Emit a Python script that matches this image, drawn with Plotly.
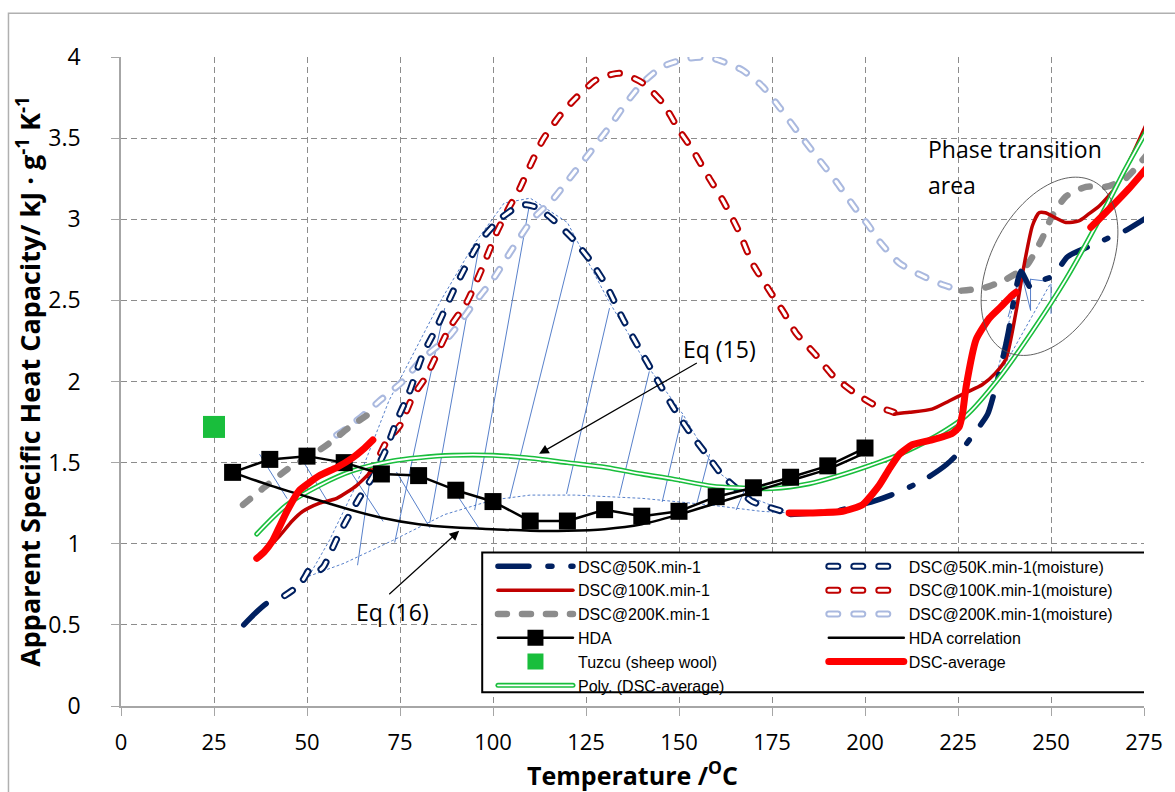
import numpy as np
import plotly.graph_objects as go

# ---------------------------------------------------------------------------
# Apparent specific heat capacity of wool (kJ g-1 K-1) versus temperature (°C)
# ---------------------------------------------------------------------------

# DSC at 50 K/min (dry sample)
dsc50_t = [33, 36, 39, 42, None, 180, 186, 192, 197, 202, 207, 212, 217, 222, 226,
           230, 233, 236.9, 238.5, 240, 241.9, 244.5, 247.2, 250.5, 254.5, 260, 265, 270, 275]
dsc50_cp = [0.50, 0.57, 0.63, 0.67, None, 1.18, 1.19, 1.20, 1.23, 1.26, 1.30, 1.35, 1.41, 1.49, 1.58,
            1.70, 1.80, 2.13, 2.30, 2.50, 2.68, 2.58, 2.62, 2.65, 2.77, 2.83, 2.88, 2.93, 3.00]

# DSC at 50 K/min (moist sample)
dsc50m_t = [44, 46.5, 49, 51, 53, 54.5, 56, 58, 60.5, 64, 67.8, 71.4, 74, 77.6, 81, 84.8, 90,
            96.4, 101.8, 106, 109, 112, 116, 121.4, 126, 130.5, 134.8, 139.4, 143.9, 148.2,
            152.8, 157.4, 161.7, 166, 169.7, 173.5, 177.8, 179.5]
dsc50m_cp = [0.68, 0.72, 0.78, 0.85, 0.83, 0.86, 0.93, 1.03, 1.14, 1.28, 1.42, 1.59, 1.75, 1.94,
             2.16, 2.33, 2.59, 2.86, 3.00, 3.07, 3.09, 3.07, 3.00, 2.88, 2.75, 2.59, 2.39, 2.20,
             2.02, 1.85, 1.69, 1.55, 1.42, 1.33, 1.26, 1.23, 1.20, 1.19]

# DSC at 100 K/min (dry sample)
dsc100_t = [39, 42.7, 46, 48.9, 53.4, 58, 63.4, 68.7, None, 208, 212, 218, 222.6, 227, 231.5,
            235, 237.9, 240.6, 242.7, 245, 246.8, 248.5, 250.3, 254, 257.5, 260, 262.9, 267.5,
            271.5, 275.5]
dsc100_cp = [0.96, 1.05, 1.14, 1.20, 1.25, 1.28, 1.36, 1.48, None, 1.80, 1.81, 1.83, 1.88, 1.93,
             1.98, 2.05, 2.14, 2.43, 2.71, 2.96, 3.04, 3.04, 3.02, 2.98, 2.99, 3.03, 3.08, 3.20,
             3.38, 3.58]

# DSC at 100 K/min (moist sample)
dsc100m_t = [66.9, 69, 71.4, 75, 78.5, 82, 88.3, 93, 97.3, 101, 104.5, 107, 110, 113.4, 118,
             122.4, 127.8, 134, 140.2, 145.5, 150, 153.6, 158.2, 161.7, 166.2, 169.7, 174.3,
             178.3, 181.4, 186.9, 191.2, 196.6, 203, 207.8]
dsc100m_cp = [1.42, 1.52, 1.63, 1.73, 1.91, 2.03, 2.33, 2.49, 2.71, 2.92, 3.08, 3.18, 3.33, 3.49,
              3.64, 3.75, 3.86, 3.90, 3.84, 3.72, 3.55, 3.43, 3.25, 3.12, 2.92, 2.73, 2.56, 2.42,
              2.30, 2.16, 2.04, 1.94, 1.85, 1.81]

# DSC at 200 K/min (dry sample)
dsc200_t = [32.8, 38.1, 45.4, 51.6, 56, 61.5, 66, None, 226, 232.5, 237.9, 243.3, 247.6, 250.3,
            254, 259.4, 264.8, 270, 275.5]
dsc200_cp = [1.24, 1.34, 1.47, 1.55, 1.62, 1.72, 1.79, None, 2.56, 2.58, 2.63, 2.71, 2.88, 3.02,
             3.14, 3.20, 3.20, 3.25, 3.39]

# DSC at 200 K/min (moist sample)
dsc200m_t = [58, 60.6, 65, 69.5, 75.7, 81, 88.3, 94.5, 100, 105.3, 110.6, 116, 119.8, 126, 131.3,
             135.9, 140.2, 145.5, 152, 157.4, 160.8, 167, 172.4, 177, 181.5, 186.9, 192.3, 197.6,
             201, 204, 209.2, 214.6, 220.5, 224.5]
dsc200m_cp = [1.67, 1.71, 1.79, 1.88, 2.00, 2.14, 2.28, 2.47, 2.63, 2.82, 3.00, 3.12, 3.23, 3.41,
              3.57, 3.72, 3.84, 3.94, 3.99, 4.00, 3.98, 3.92, 3.82, 3.69, 3.55, 3.39, 3.23, 3.06,
              2.96, 2.86, 2.73, 2.66, 2.60, 2.57]

# Average of the DSC runs
dscavg_t = [36.5, 38.5, 40.8, 42.5, 44.6, 48, 53.4, 58, 62.3, 65, 67.7, None, 179.6, 186, 194,
            199.3, 203.8, 206.5, 209.2, 212.7, 218, 223.4, 225.3, 226.2, 227.2, 229.9, 233.4,
            236.5, 239.5, 240.6, None, 260.7, 266.4, 271, 275.5]
dscavg_cp = [0.91, 0.95, 1.02, 1.10, 1.20, 1.33, 1.42, 1.47, 1.53, 1.58, 1.64, None, 1.19, 1.19,
             1.20, 1.24, 1.36, 1.46, 1.55, 1.61, 1.64, 1.68, 1.72, 1.80, 1.97, 2.26, 2.39, 2.46,
             2.53, 2.55, None, 2.95, 3.08, 3.19, 3.31]

# Polynomial trend of the DSC average
poly_t = [36.5, 44.6, 53.4, 62.3, 73, 80, 89.2, 100, 109, 120, 130.5, 140, 148.2, 159, 166, 175,
          185, 193, 201, 209.2, 218, 227.2, 236, 245, 254, 263, 270, 275.8]
poly_cp = [1.06, 1.24, 1.36, 1.45, 1.51, 1.53, 1.545, 1.545, 1.53, 1.50, 1.47, 1.43, 1.40, 1.355,
           1.345, 1.34, 1.37, 1.42, 1.48, 1.55, 1.65, 1.79, 2.02, 2.31, 2.63, 3.00, 3.31, 3.55]

# Hot-disk analysis (HDA) measurements and correlation
hda_t = [30, 40, 50, 60, 70, 80, 90, 100, 110, 120, 130, 140, 150, 160, 170, 180, 190, 200]
hda_cp = [1.44, 1.52, 1.54, 1.50, 1.43, 1.42, 1.33, 1.26, 1.14, 1.14, 1.21, 1.17, 1.20, 1.29,
          1.345, 1.41, 1.48, 1.59]
hdacorr_t = [30, 40, 50, 60, 70, 80, 90, 100, 110, 120, 130, 140, 150, 160, 170, 180, 190, 200]
hdacorr_cp = [1.44, 1.36, 1.29, 1.22, 1.16, 1.12, 1.10, 1.09, 1.08, 1.08, 1.09, 1.12, 1.18, 1.25,
              1.32, 1.39, 1.46, 1.56]

# Literature value (Tuzcu, sheep wool)
tuzcu_t = [25]
tuzcu_cp = [1.72]

# Integration areas: envelope, baseline and hatch segments
eq15_env_t = [50.5, 56, 63, 72, 86, 95, 103, 110, 120, 131, 142, 151, 160, 170, 180]
eq15_env_cp = [0.80, 1.02, 1.35, 1.88, 2.50, 2.85, 3.10, 3.13, 2.98, 2.50, 2.08, 1.80, 1.45, 1.28, 1.19]
eq15_base_t = [50.5, 60, 73, 87, 100, 110, 122, 140, 158, 172, 180]
eq15_base_cp = [0.80, 0.88, 1.02, 1.18, 1.27, 1.30, 1.30, 1.28, 1.24, 1.20, 1.19]
phase_env_t = [235.6, 241.9, None, 237.5, 250]
phase_env_cp = [2.06, 2.68, None, 2.10, 2.61]

hatch_t0 = [63.6, 73.6, 83.0, 95.1, 104.5, 119.8, 134.0, 145.5, 154.7, 165.4,
            37.3, 48.9, 60.7, 74.1, 89.2,
            238.5, 241.9, 244.5, 244.5, 250]
hatch_cp0 = [0.87, 1.01, 1.13, 1.21, 1.28, 1.31, 1.30, 1.26, 1.24, 1.21,
             1.55, 1.51, 1.48, 1.44, 1.34,
             2.40, 2.68, 2.44, 2.63, 2.42]
hatch_t1 = [67.4, 87.0, 96.4, 109.8, 121.9, 131.3, 142.0, 150.9, 158.2, 167.6,
            44.6, 56.1, 70.4, 83.0, 96.4,
            241.9, 244.5, 244.5, 248.2, 250]
hatch_cp1 = [1.47, 2.45, 2.85, 3.09, 2.88, 2.45, 2.06, 1.79, 1.55, 1.33,
             1.28, 1.24, 1.14, 1.10, 1.09,
             2.68, 2.44, 2.63, 2.62, 2.60]

# Axis set-up
X_RANGE = [0, 275]
Y_RANGE = [0, 4]
W, H = 1175, 792
M = dict(l=121, r=28, t=57, b=84)
PX_PER_X = (W - M["l"] - M["r"]) / (X_RANGE[1] - X_RANGE[0])
PX_PER_Y = (H - M["t"] - M["b"]) / (Y_RANGE[1] - Y_RANGE[0])

NAVY = "#002060"
DARKRED = "#C00000"
GREY = "#8C8C8C"
LIGHTBLUE = "#AAB9DF"
RED = "#FF0000"
GREEN = "#19BE3C"
HATCH = "#4472C4"

SANS = "Open Sans, Lato, sans-serif"
ARIAL = "Liberation Sans, Arial, sans-serif"

fig = go.Figure()


def segments(x0, y0, x1, y1):
    xs, ys = [], []
    for a, b, c, d in zip(x0, y0, x1, y1):
        xs += [a, c, None]
        ys += [b, d, None]
    return xs, ys


# hatch lines of the integration areas
hx, hy = segments(hatch_t0, hatch_cp0, hatch_t1, hatch_cp1)
fig.add_trace(go.Scatter(x=hx, y=hy, mode="lines", line=dict(color=HATCH, width=0.9),
                         showlegend=False, hoverinfo="skip"))
for ex, ey in [(eq15_env_t, eq15_env_cp), (eq15_base_t, eq15_base_cp), (phase_env_t, phase_env_cp)]:
    fig.add_trace(go.Scatter(x=ex, y=ey, mode="lines", showlegend=False, hoverinfo="skip",
                             line=dict(color=HATCH, width=0.9, dash="2px,3px")))


def open_dash(x, y, color, name, legend, rank):
    # outlined dashes: coloured stroke with a white core on the same dash pattern
    dash = "9px,16px"
    fig.add_trace(go.Scatter(x=x, y=y, mode="lines", name=name, legend=legend, legendrank=rank,
                             line=dict(color=color, width=7, dash=dash, shape="spline", smoothing=0.6)))
    fig.add_trace(go.Scatter(x=x, y=y, mode="lines", showlegend=False, hoverinfo="skip",
                             line=dict(color="white", width=3, dash=dash, shape="spline", smoothing=0.6)))


open_dash(dsc200m_t, dsc200m_cp, LIGHTBLUE, "DSC@200K.min-1(moisture)", "legend2", 3)
open_dash(dsc100m_t, dsc100m_cp, DARKRED, "DSC@100K.min-1(moisture)", "legend2", 2)
open_dash(dsc50m_t, dsc50m_cp, NAVY, "DSC@50K.min-1(moisture)", "legend2", 1)

fig.add_trace(go.Scatter(x=dsc200_t, y=dsc200_cp, mode="lines", name="DSC@200K.min-1",
                         legend="legend", legendrank=3,
                         line=dict(color=GREY, width=6.5, dash="9px,15px", shape="spline", smoothing=0.6)))
fig.add_trace(go.Scatter(x=dsc100_t, y=dsc100_cp, mode="lines", name="DSC@100K.min-1",
                         legend="legend", legendrank=2,
                         line=dict(color=DARKRED, width=3.5, shape="spline", smoothing=0.6)))
fig.add_trace(go.Scatter(x=dsc50_t, y=dsc50_cp, mode="lines", name="DSC@50K.min-1",
                         legend="legend", legendrank=1,
                         line=dict(color=NAVY, width=5.5, dash="31px,19px,4px,19px",
                                   shape="spline", smoothing=0.6)))

# polynomial trend drawn as a double line
fig.add_trace(go.Scatter(x=poly_t, y=poly_cp, mode="lines", name="Poly. (DSC-average)",
                         legend="legend", legendrank=6,
                         line=dict(color=GREEN, width=5, shape="spline", smoothing=0.8)))
fig.add_trace(go.Scatter(x=poly_t, y=poly_cp, mode="lines", showlegend=False, hoverinfo="skip",
                         line=dict(color="white", width=1.8, shape="spline", smoothing=0.8)))

fig.add_trace(go.Scatter(x=hdacorr_t, y=hdacorr_cp, mode="lines", name="HDA correlation",
                         legend="legend2", legendrank=4,
                         line=dict(color="black", width=2.5, shape="spline", smoothing=0.8)))
fig.add_trace(go.Scatter(x=hda_t, y=hda_cp, mode="lines+markers", name="HDA",
                         legend="legend", legendrank=4,
                         line=dict(color="black", width=2.5),
                         marker=dict(symbol="square", size=17, color="black")))
fig.add_trace(go.Scatter(x=dscavg_t, y=dscavg_cp, mode="lines", name="DSC-average",
                         legend="legend2", legendrank=5,
                         line=dict(color=RED, width=7, shape="spline", smoothing=0.5)))
fig.add_trace(go.Scatter(x=tuzcu_t, y=tuzcu_cp, mode="markers", name="Tuzcu (sheep wool)",
                         legend="legend", legendrank=5,
                         marker=dict(symbol="square", size=22, color=GREEN)))

# ellipse around the phase transition area (axes in pixels, tilted)
ell_c = (249.6, 2.71)
ell_a, ell_b, ell_theta = 96.0, 59.0, np.deg2rad(62.5)
tt = np.linspace(0, 2 * np.pi, 121)
ex = ell_c[0] + (ell_a * np.cos(tt) * np.cos(ell_theta) - ell_b * np.sin(tt) * np.sin(ell_theta)) / PX_PER_X
ey = ell_c[1] + (ell_a * np.cos(tt) * np.sin(ell_theta) + ell_b * np.sin(tt) * np.cos(ell_theta)) / PX_PER_Y
ell_path = "M " + " L ".join(f"{a:.3f},{b:.4f}" for a, b in zip(ex, ey)) + " Z"
fig.add_shape(type="path", path=ell_path, xref="x", yref="y",
              line=dict(color="#505050", width=0.9), layer="above")

# legend frame
fig.add_shape(type="rect", xref="x", yref="y", x0=97.1, x1=275.8, y0=0.085, y1=0.946,
              line=dict(color="black", width=2), fillcolor="white", layer="between")
# chart frame
fig.add_shape(type="rect", xref="paper", yref="paper", x0=-0.110, x1=1.2, y0=-0.3, y1=1.0676,
              line=dict(color="#B0B0B0", width=1.5), layer="below")

# annotations
ann_font = dict(family=SANS, size=23, color="black")
fig.add_annotation(x=112.4, y=1.554, ax=155.2, ay=2.12, xref="x", yref="y", axref="x", ayref="y",
                   text="", showarrow=True, arrowhead=2, arrowsize=1.6, arrowwidth=1.2,
                   arrowcolor="black")
fig.add_annotation(x=90.9, y=1.08, ax=71.7, ay=0.68, xref="x", yref="y", axref="x", ayref="y",
                   text="", showarrow=True, arrowhead=2, arrowsize=1.6, arrowwidth=1.2,
                   arrowcolor="black")
fig.add_annotation(x=161.0, y=2.20, text="Eq (15)", showarrow=False, font=ann_font)
fig.add_annotation(x=73.0, y=0.58, text="Eq (16)", showarrow=False, font=ann_font)
fig.add_annotation(x=216.3, y=3.43, text="Phase transition", showarrow=False, font=ann_font,
                   xanchor="left")
fig.add_annotation(x=216.3, y=3.21, text="area", showarrow=False, font=ann_font, xanchor="left")

grid = dict(showgrid=True, gridcolor="#8C8C8C", gridwidth=1, griddash="6px,4px")
fig.update_xaxes(range=X_RANGE, dtick=25, tick0=0, **grid,
                 showline=True, linecolor="#A6A6A6", linewidth=1.5,
                 ticks="outside", ticklen=8, tickcolor="#A6A6A6", ticklabelstandoff=8,
                 tickfont=dict(family=SANS, size=22, color="black"),
                 title=dict(text="<b>Temperature /<sup>O</sup>C</b>", standoff=6,
                            font=dict(family=SANS, size=25, color="black")),
                 zeroline=False)
fig.update_yaxes(range=Y_RANGE, dtick=0.5, tick0=0, **grid,
                 showline=True, linecolor="#A6A6A6", linewidth=1.5,
                 ticks="outside", ticklen=8, tickcolor="#A6A6A6", ticklabelstandoff=26,
                 tickfont=dict(family=SANS, size=23, color="black"),
                 title=dict(text="<b>Apparent Specific Heat Capacity/ kJ · g<sup>-1</sup> K<sup>-1</sup></b>",
                            standoff=0, font=dict(family=SANS, size=27, color="black")),
                 zeroline=False)

leg = dict(font=dict(family=ARIAL, size=16, color="black"), bgcolor="rgba(0,0,0,0)",
           yanchor="top", xanchor="left", itemwidth=75, traceorder="normal")
fig.update_layout(
    width=W, height=H, margin=M,
    paper_bgcolor="white", plot_bgcolor="white",
    legend=dict(x=0.3636, y=0.2412, **leg),
    legend2=dict(x=0.687, y=0.2412, **leg),
)

# round dash ends, and white cores on the legend samples of the outlined lines
post = """
(function(){
var gd = document.querySelector('.plotly-graph-div');
var cores = {'DSC@50K.min-1(moisture)': 3, 'DSC@100K.min-1(moisture)': 3,
             'DSC@200K.min-1(moisture)': 3, 'Poly. (DSC-average)': 1.8};
function traceName(p){
  var d = p.__data__;
  if(d && d[0] && d[0].trace) return d[0].trace.name;
  var g = p.closest('.traces');
  var t = g ? g.querySelector('.legendtext') : null;
  return t ? t.textContent : '';
}
function dress(){
  gd.querySelectorAll('.scatterlayer .trace path.js-line').forEach(function(p){
    p.style.strokeLinecap = 'round'; p.style.strokeLinejoin = 'round';
  });
  gd.querySelectorAll('.legendlines path').forEach(function(p){
    if(p.classList.contains('core-line')) return;
    p.style.strokeLinecap = 'round';
    var w = cores[traceName(p)];
    if(!w) return;
    var old = p.parentNode.querySelector('.core-line');
    if(old) old.remove();
    var c = document.createElementNS('http://www.w3.org/2000/svg', 'path');
    c.setAttribute('d', p.getAttribute('d'));
    c.setAttribute('class', 'core-line');
    c.setAttribute('style', 'fill:none;stroke:#ffffff;stroke-width:' + w + 'px;' +
                   'stroke-linecap:round;stroke-dasharray:' + (p.style.strokeDasharray || 'none'));
    p.parentNode.appendChild(c);
  });
}
dress();
gd.on('plotly_afterplot', dress);
[30, 150, 400, 800, 1500].forEach(function(ms){ setTimeout(dress, ms); });
})();
"""
fig.write_html("out.html", post_script=post)
